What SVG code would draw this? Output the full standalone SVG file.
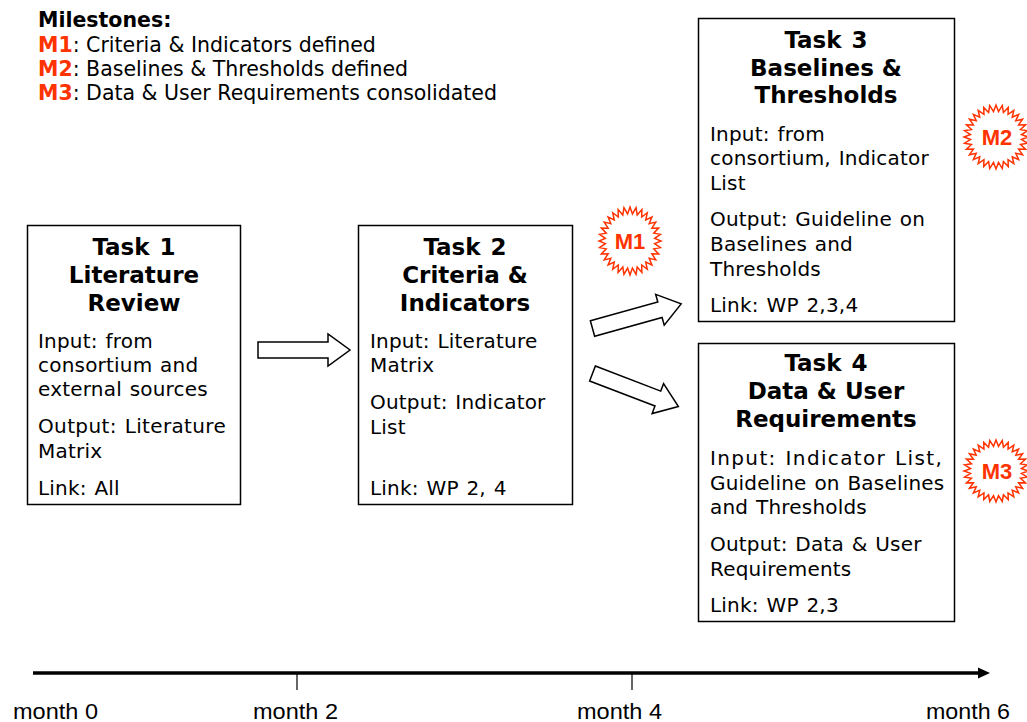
<svg xmlns="http://www.w3.org/2000/svg" xmlns:xlink="http://www.w3.org/1999/xlink" width="1027" height="722" viewBox="0 0 1027 722">
<style>
.box{fill:#fff;stroke:#000;stroke-width:1.5}
.title{font-family:"DejaVu Sans",Verdana,sans-serif;font-weight:bold;font-size:23px;fill:#000;text-anchor:middle}
.task{word-spacing:2px}
.body{font-family:"DejaVu Sans",Verdana,sans-serif;font-size:20px;fill:#000;letter-spacing:0.2px;word-spacing:1.2px}
.leg{font-family:"DejaVu Sans",Verdana,sans-serif;font-size:20.5px;fill:#000}
.red{fill:#ff3300;font-weight:bold}
.blk{fill:#fff;stroke:#000;stroke-width:1.5;stroke-linejoin:miter}
.burst{fill:#fff;stroke:#ff3300;stroke-width:1.5}
.mlab{font-family:"Liberation Sans",Arial,sans-serif;font-weight:bold;font-size:22px;fill:#ff3300;text-anchor:middle}
.month{font-family:"Liberation Sans",Arial,sans-serif;font-size:22px;fill:#000}
</style>
<defs>
<polygon id="star" vector-effect="non-scaling-stroke" points="100,0 79.6,7.8 98.1,19.5 76.6,23.2 92.4,38.3 70.6,37.7 83.1,55.6 61.8,50.8 70.7,70.7 50.8,61.8 55.6,83.1 37.7,70.6 38.3,92.4 23.2,76.6 19.5,98.1 7.8,79.6 0,100 -7.8,79.6 -19.5,98.1 -23.2,76.6 -38.3,92.4 -37.7,70.6 -55.6,83.1 -50.8,61.8 -70.7,70.7 -61.8,50.8 -83.1,55.6 -70.6,37.7 -92.4,38.3 -76.6,23.2 -98.1,19.5 -79.6,7.8 -100,0 -79.6,-7.8 -98.1,-19.5 -76.6,-23.2 -92.4,-38.3 -70.6,-37.7 -83.1,-55.6 -61.8,-50.8 -70.7,-70.7 -50.8,-61.8 -55.6,-83.1 -37.7,-70.6 -38.3,-92.4 -23.2,-76.6 -19.5,-98.1 -7.8,-79.6 0,-100 7.8,-79.6 19.5,-98.1 23.2,-76.6 38.3,-92.4 37.7,-70.6 55.6,-83.1 50.8,-61.8 70.7,-70.7 61.8,-50.8 83.1,-55.6 70.6,-37.7 92.4,-38.3 76.6,-23.2 98.1,-19.5 79.6,-7.8"/>
<path id="blockArrow" d="M0,-8 L70,-8 L70,-16 L92,0 L70,16 L70,8 L0,8 Z"/>
</defs>

<g id="legend">
<text class="leg" x="38" y="27" font-weight="bold" font-size="19.5">Milestones:</text>
<text class="leg" x="38" y="52"><tspan class="red">M1</tspan>: Criteria &amp; Indicators defined</text>
<text class="leg" x="38" y="76"><tspan class="red">M2</tspan>: Baselines &amp; Thresholds defined</text>
<text class="leg" x="38" y="100"><tspan class="red">M3</tspan>: Data &amp; User Requirements consolidated</text>
</g>

<g id="task1">
<rect class="box" x="27.5" y="225.5" width="213" height="279"/>
<text class="title task" x="134" y="255">Task 1</text>
<text class="title" x="134" y="283">Literature</text>
<text class="title" x="134" y="311">Review</text>
<text class="body" x="38" y="348">Input: from</text>
<text class="body" x="38" y="372">consortium and</text>
<text class="body" x="38" y="396">external sources</text>
<text class="body" x="38" y="433" textLength="188" lengthAdjust="spacing">Output: Literature</text>
<text class="body" x="38" y="458">Matrix</text>
<text class="body" x="38" y="495">Link: All</text>
</g>

<g id="task2">
<rect class="box" x="358.5" y="225.5" width="214" height="279"/>
<text class="title task" x="465" y="255">Task 2</text>
<text class="title" x="465" y="283">Criteria &amp;</text>
<text class="title" x="465" y="311">Indicators</text>
<text class="body" x="370" y="348">Input: Literature</text>
<text class="body" x="370" y="372">Matrix</text>
<text class="body" x="370" y="409">Output: Indicator</text>
<text class="body" x="370" y="434">List</text>
<text class="body" x="370" y="495">Link: WP 2, 4</text>
</g>

<g id="task3">
<rect class="box" x="698.5" y="18.5" width="256" height="303"/>
<text class="title task" x="826" y="48">Task 3</text>
<text class="title" x="826" y="76">Baselines &amp;</text>
<text class="title" x="826" y="103">Thresholds</text>
<text class="body" x="710" y="141">Input: from</text>
<text class="body" x="710" y="165">consortium, Indicator</text>
<text class="body" x="710" y="190">List</text>
<text class="body" x="710" y="226">Output: Guideline on</text>
<text class="body" x="710" y="251">Baselines and</text>
<text class="body" x="710" y="276">Thresholds</text>
<text class="body" x="710" y="312">Link: WP 2,3,4</text>
</g>

<g id="task4">
<rect class="box" x="698.5" y="343.5" width="256" height="278"/>
<text class="title task" x="826" y="371">Task 4</text>
<text class="title" x="826" y="399">Data &amp; User</text>
<text class="title" x="826" y="427">Requirements</text>
<text class="body" x="710" y="465" textLength="232" lengthAdjust="spacing">Input: Indicator List,</text>
<text class="body" x="710" y="490">Guideline on Baselines</text>
<text class="body" x="710" y="514">and Thresholds</text>
<text class="body" x="710" y="551">Output: Data &amp; User</text>
<text class="body" x="710" y="576">Requirements</text>
<text class="body" x="710" y="612">Link: WP 2,3</text>
</g>

<g id="connectors">
<use xlink:href="#blockArrow" class="blk" transform="translate(258,350)"/>
<use xlink:href="#blockArrow" class="blk" transform="translate(592.5,328.5) rotate(-15.5)"/>
<use xlink:href="#blockArrow" class="blk" transform="translate(592.5,373.5) rotate(21)"/>
</g>

<g id="m1">
<use xlink:href="#star" class="burst" transform="translate(630,241) scale(0.31,0.34)"/>
<text class="mlab" x="630" y="249">M1</text>
</g>
<g id="m2">
<use xlink:href="#star" class="burst" transform="translate(996,137) scale(0.32,0.32)"/>
<text class="mlab" x="997" y="145">M2</text>
</g>
<g id="m3">
<use xlink:href="#star" class="burst" transform="translate(996,471) scale(0.32,0.31)"/>
<text class="mlab" x="997" y="479">M3</text>
</g>

<g id="timeline">
<line x1="33" y1="673" x2="980" y2="673" stroke="#000" stroke-width="3.5"/>
<polygon points="978,667.5 990,673 978,678.5" fill="#000"/>
<line x1="297" y1="673" x2="297" y2="690" stroke="#000" stroke-width="1.2"/>
<line x1="632" y1="673" x2="632" y2="690" stroke="#000" stroke-width="1.2"/>
<text class="month" x="13" y="719" textLength="85" lengthAdjust="spacingAndGlyphs">month 0</text>
<text class="month" x="253" y="719" textLength="85" lengthAdjust="spacingAndGlyphs">month 2</text>
<text class="month" x="577" y="719" textLength="85" lengthAdjust="spacingAndGlyphs">month 4</text>
<text class="month" x="926" y="719" textLength="84" lengthAdjust="spacingAndGlyphs">month 6</text>
</g>
</svg>
